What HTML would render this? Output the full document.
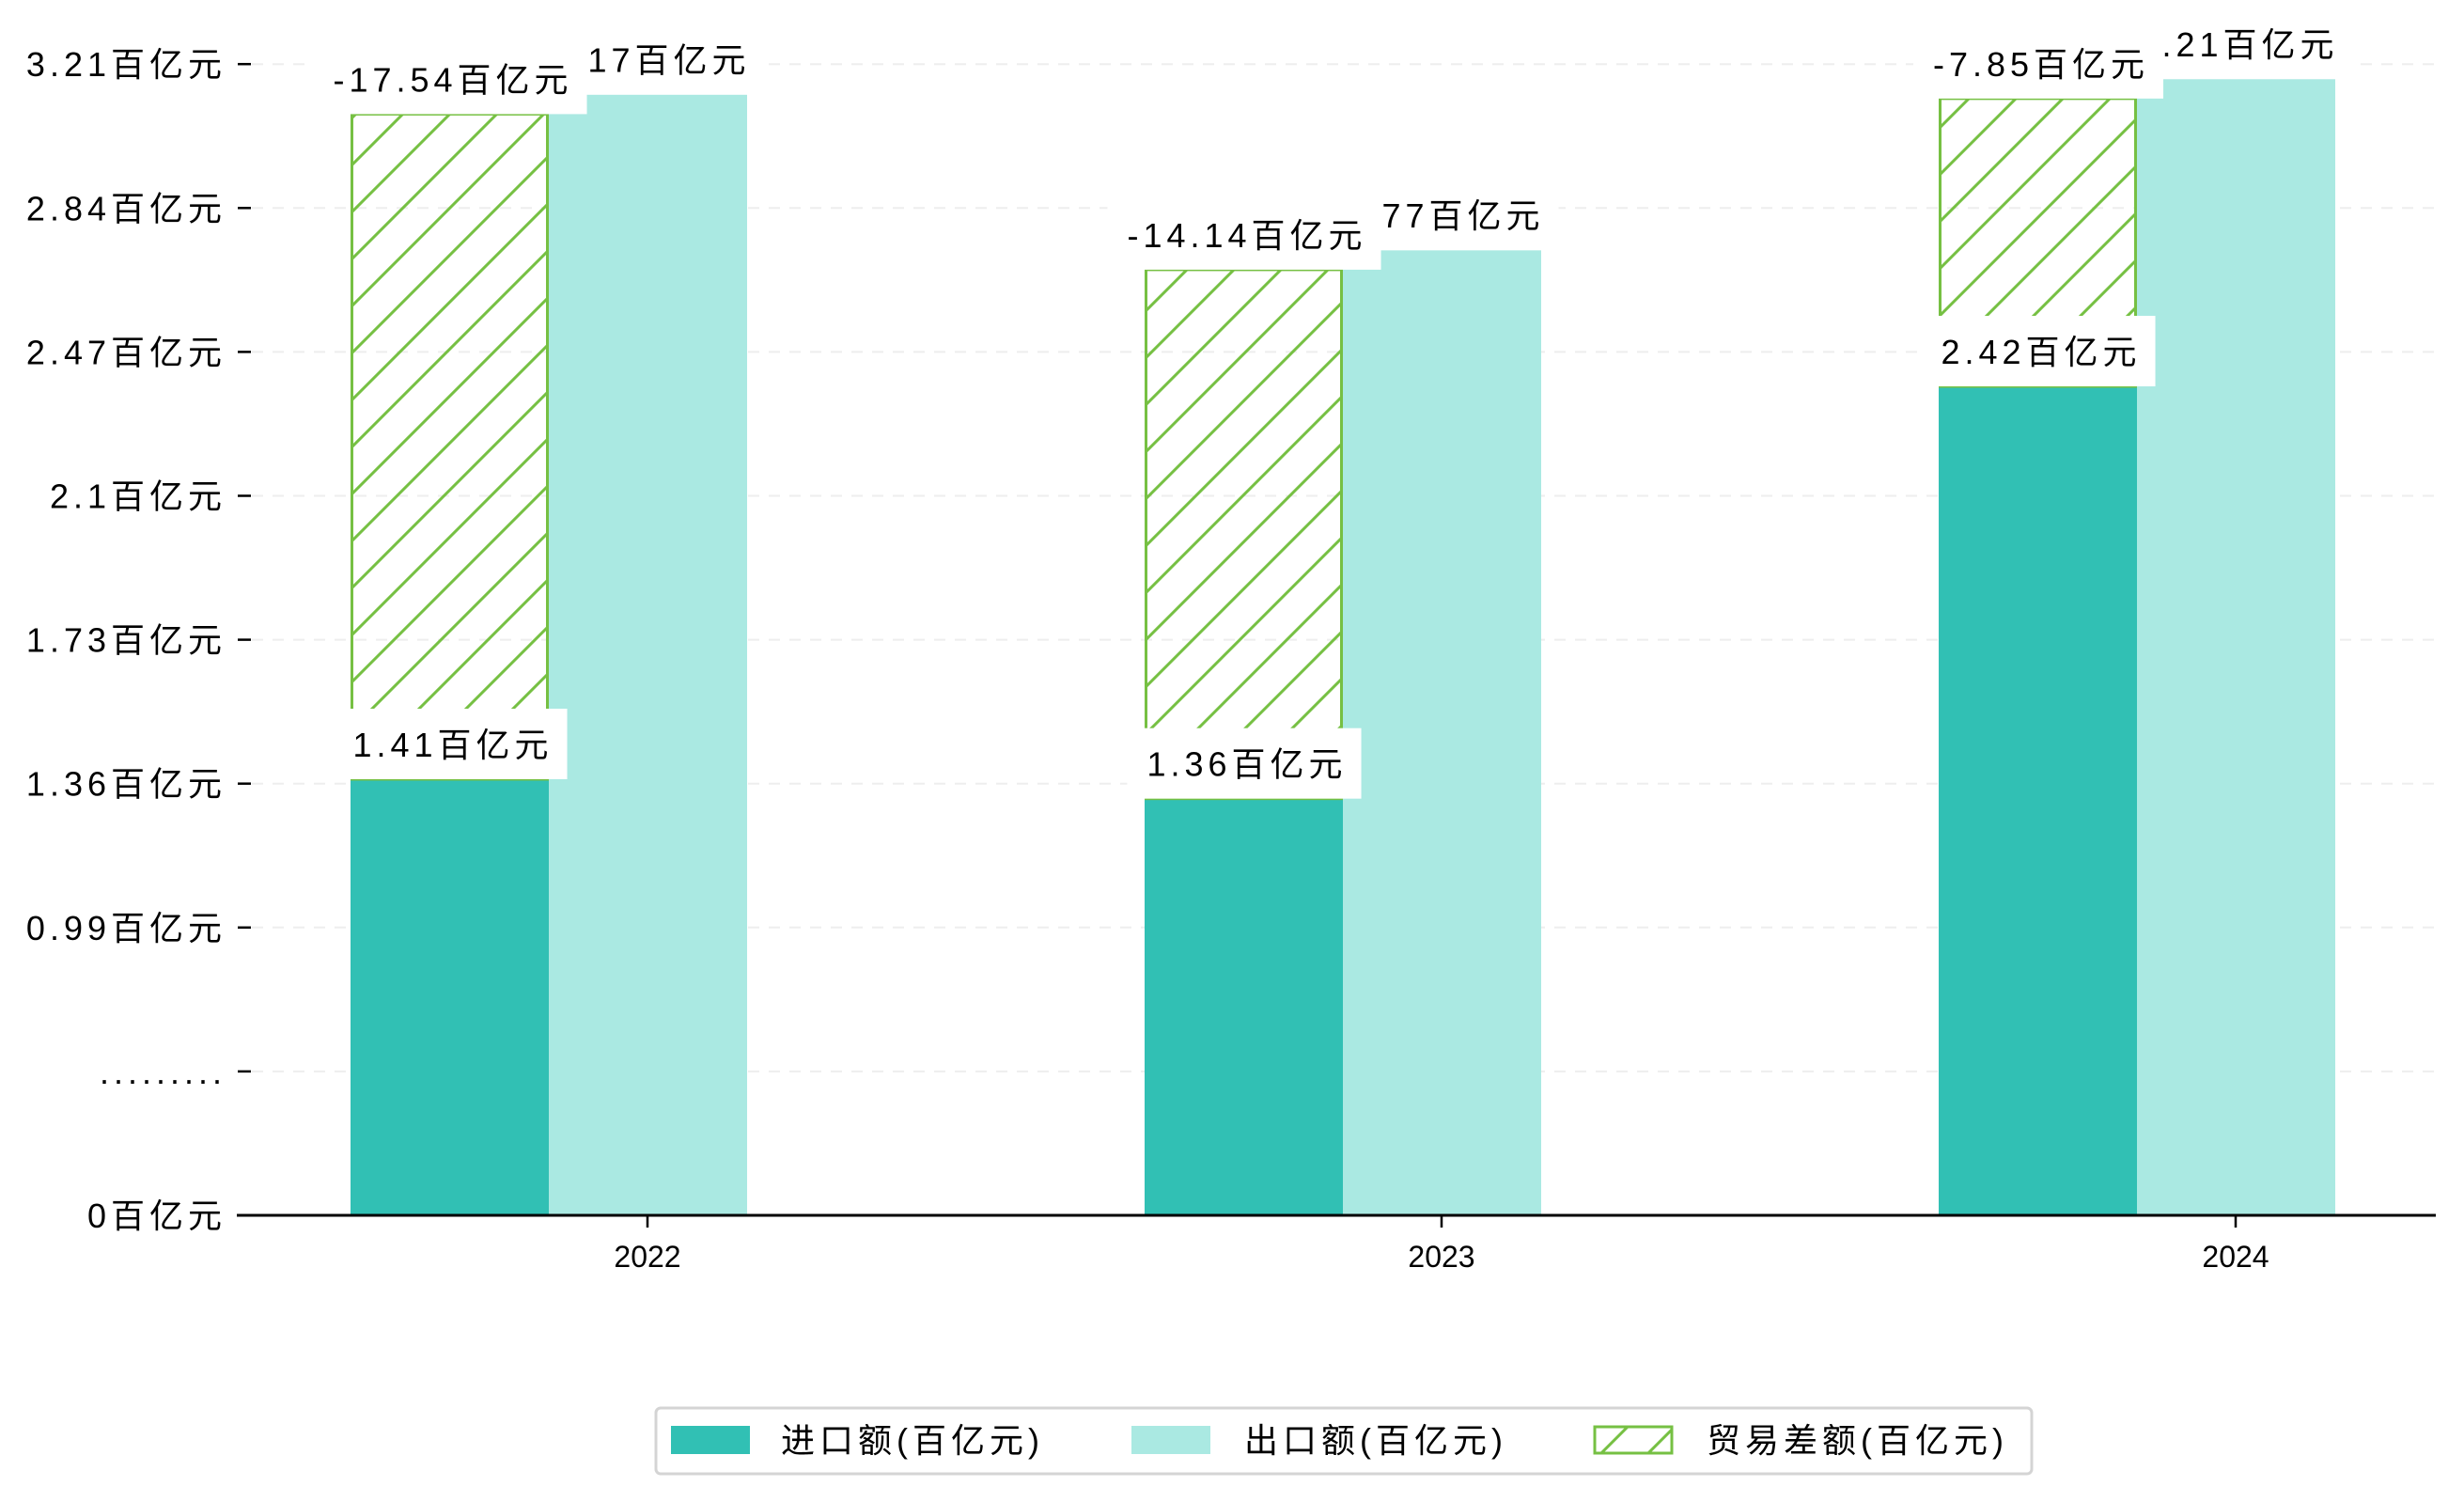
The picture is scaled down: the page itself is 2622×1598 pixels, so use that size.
<!DOCTYPE html>
<html><head><meta charset="utf-8">
<style>
html,body{margin:0;padding:0;background:#fff;}
svg{display:block;font-family:"Liberation Sans","WenQuanYi Zen Hei",sans-serif;}
.w{letter-spacing:5px;}
</style></head>
<body>
<svg id="chart" width="2622" height="1598" viewBox="0 0 2622 1598" xmlns="http://www.w3.org/2000/svg">
<defs>
<pattern id="hatch" patternUnits="userSpaceOnUse" width="50" height="50">
<path d="M-5,5 L5,-5 M0,50 L50,0 M45,55 L55,45" stroke="#76c043" stroke-width="3"/>
</pattern>
</defs>
<g id="grid"></g>
<g id="bars"></g>
<g id="labels"></g>
<g id="axes"></g>
<g id="legend">
<rect x="698" y="1498" width="1464" height="70" rx="5" fill="#fff" stroke="#d4d4d4" stroke-width="3"/>
<rect x="714" y="1517" width="84" height="30" fill="#31c0b4"/>
<text class="w" x="831" y="1545" font-size="36">进口额(百亿元)</text>
<rect x="1204" y="1517" width="84" height="30" fill="#aae9e2"/>
<text class="w" x="1324" y="1545" font-size="36">出口额(百亿元)</text>
<rect x="1697" y="1518" width="82" height="28" fill="url(#hatch)" stroke="#76c043" stroke-width="3"/>
<text class="w" x="1816" y="1545" font-size="36">贸易差额(百亿元)</text>
</g>
</svg>
<script>
const categories = ["2022", "2023", "2024"];
const importValues = [1.41, 1.36, 2.42];
const exportValues = [3.17, 2.77, 3.21];
const balanceTop = [3.12, 2.72, 3.16];
const balanceLabels = ["-17.54百亿元", "-14.14百亿元", "-7.85百亿元"];
const importLabels = ["1.41百亿元", "1.36百亿元", "2.42百亿元"];
const exportLabels = ["3.17百亿元", "2.77百亿元", "3.21百亿元"];
const yTickLabels = ["0百亿元", ".........", "0.99百亿元", "1.36百亿元", "1.73百亿元", "2.1百亿元", "2.47百亿元", "2.84百亿元", "3.21百亿元"];

const NS = "http://www.w3.org/2000/svg";
const zeroY = 1293, plotL = 252, plotR = 2592;
function yScale(v){ return 829 + (1.41 - v) * 413.8; }
function xCenter(i){ return 689 + i * 845; }
const BW = 211;
function mk(tag, attrs, parent){ const e = document.createElementNS(NS, tag); for (const k in attrs) e.setAttribute(k, attrs[k]); parent.appendChild(e); return e; }

const grid = document.getElementById('grid'), bars = document.getElementById('bars'), labels = document.getElementById('labels'), axes = document.getElementById('axes');

yTickLabels.forEach((t, i) => {
  const y = zeroY - i * 153.1;
  if (i > 0) {
    const g = mk('line', {x1: 268, x2: plotR, y1: y, y2: y, stroke: '#eeeeee', 'stroke-width': 2, 'stroke-dasharray': '12,10'}, grid);
    
    
  }
  const tk = mk('line', {x1: 253, x2: 267, y1: y, y2: y, stroke: '#000', 'stroke-width': 2.5}, axes);
  
  
  const tx = mk('text', {x: 241, y: y + 13, 'text-anchor': 'end', 'font-size': 36, 'class': 'w'}, axes);
  tx.textContent = t;
  
  
});

const ax = mk('line', {x1: plotL, x2: plotR, y1: zeroY, y2: zeroY, stroke: '#000', 'stroke-width': 3}, axes);



categories.forEach((c, i) => {
  const cx = xCenter(i);
  const tk = mk('line', {x1: cx, x2: cx, y1: zeroY, y2: zeroY + 13, stroke: '#000', 'stroke-width': 2.5}, axes);
  
  
  const tx = mk('text', {x: cx, y: zeroY + 55, 'text-anchor': 'middle', 'font-size': 32}, axes);
  tx.textContent = c;
  
  

  const ix = cx - 316, ex = cx - 105;
  const ib = mk('rect', {x: ix, y: yScale(importValues[i]), width: BW, height: zeroY - yScale(importValues[i]), fill: '#31c0b4'}, bars);
  
  
  const eb = mk('rect', {x: ex, y: yScale(exportValues[i]), width: BW, height: zeroY - yScale(exportValues[i]), fill: '#aae9e2'}, bars);
  
  
  const hy = yScale(balanceTop[i]), hb = yScale(importValues[i]);
  const hbk = mk('rect', {x: ix + 1.5, y: hy, width: BW - 3, height: hb - hy, fill: 'url(#hatch)', stroke: '#76c043', 'stroke-width': 3}, bars);
  
  
});

function label(txt, cx, topY, name){
  const g = mk('g', {}, labels);
  
  
  const bg = mk('rect', {x: 0, y: topY - 75, width: 10, height: 75, fill: '#fff'}, g);
  const t = mk('text', {x: cx + 3, y: topY - 24, 'text-anchor': 'middle', 'font-size': 36, 'class': 'w'}, g);
  t.textContent = txt;
  const w = t.getComputedTextLength();
  bg.setAttribute('x', cx - w / 2 - 18);
  bg.setAttribute('width', w + 36);
}
categories.forEach((c, i) => label(exportLabels[i], xCenter(i), yScale(exportValues[i]), 'label-export-' + c));
categories.forEach((c, i) => label(balanceLabels[i], xCenter(i) - 210, yScale(balanceTop[i]), 'label-balance-' + c));
categories.forEach((c, i) => label(importLabels[i], xCenter(i) - 210, yScale(importValues[i]), 'label-import-' + c));
</script>
</body></html>
